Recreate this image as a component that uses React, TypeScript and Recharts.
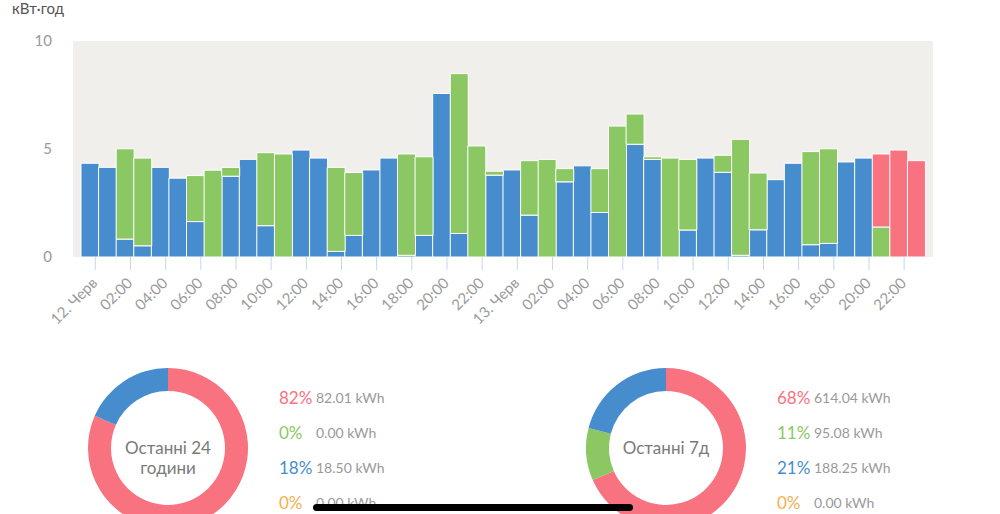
import { Bar, BarChart, CartesianGrid, Cell, Pie, PieChart, XAxis, YAxis } from "recharts";

// hourly slots, 12 Jun 00:00 .. 13 Jun 23:00
const slots = Array.from({ length: 48 }, (_, i) => `${i < 24 ? 12 : 13}.06 ${String(i % 24).padStart(2, "0")}:00`);
const tickLabels = [
    "12. Черв", "02:00", "04:00", "06:00", "08:00", "10:00", "12:00", "14:00", "16:00", "18:00", "20:00", "22:00",
    "13. Черв", "02:00", "04:00", "06:00", "08:00", "10:00", "12:00", "14:00", "16:00", "18:00", "20:00", "22:00",
];
const blueVals = [
    4.34, 4.15, 0.83, 0.52, 4.15, 3.65, 1.64, 0, 3.74, 4.52, 1.45, 0,
    4.95, 4.58, 0.26, 1.0, 4.03, 4.58, 0.08, 1.0, 7.57, 1.09, 0, 3.79,
    4.03, 1.94, 0, 3.48, 4.22, 2.06, 0, 5.22, 4.52, 0, 1.25, 4.58,
    3.92, 0.08, 1.26, 3.58, 4.34, 0.57, 0.63, 4.4, 4.58, 0, 0, 0,
];
const greenVals = [
    0, 0, 4.18, 4.06, 0, 0, 2.13, 4.02, 0.41, 0, 3.38, 4.77,
    0, 0, 3.89, 2.91, 0, 0, 4.69, 3.64, 0, 7.4, 5.14, 0.18,
    0, 2.52, 4.52, 0.61, 0, 2.03, 6.06, 1.4, 0.12, 4.58, 3.27, 0,
    0.79, 5.37, 2.63, 0, 0, 4.31, 4.38, 0, 0, 1.39, 0, 0,
];
const redVals = [
    0, 0, 0, 0, 0, 0, 0, 0, 0, 0, 0, 0,
    0, 0, 0, 0, 0, 0, 0, 0, 0, 0, 0, 0,
    0, 0, 0, 0, 0, 0, 0, 0, 0, 0, 0, 0,
    0, 0, 0, 0, 0, 0, 0, 0, 0, 3.38, 4.95, 4.46,
];

const pieNames = ["red", "green", "blue", "orange"];
const pieColors = ["#f8727f", "#8bc863", "#478dce", "#f2b04f"];
const day24 = [82.01, 0, 18.5, 0];
const day24Pct = ["82%", "0%", "18%", "0%"];
const week = [614.04, 95.08, 188.25, 0];
const weekPct = ["68%", "11%", "21%", "0%"];

const BLUE = "#478dce";
const GREEN = "#8bc863";
const RED = "#f8727f";
const FONT = "Lato, 'Open Sans', sans-serif";

const XTick = ({ x, y, payload }: any) => {
    const label = tickLabels[payload.index / 2];
    if (label === undefined) return null;
    const tx = x + 5.5;
    return (
        <g>
            <line x1={tx} y1={y} x2={tx} y2={y + 13} stroke="#c9d5ec" strokeWidth={1} />
            <text x={tx + 3} y={y + 27} textAnchor="end" fontSize={15} fill="#9a9a9a" fontFamily={FONT}
                  transform={`rotate(-45 ${tx + 3} ${y + 27})`}>{label}</text>
        </g>
    );
};

const Donut = ({ values, pcts, title, left }: any) => {
    const data = values.map((v: number, i: number) => ({ name: pieNames[i], value: v }));
    return (
        <>
            <div style={{ position: "absolute", left: left - 100, top: 348 }}>
                <PieChart width={200} height={200} margin={{ top: 0, right: 0, bottom: 0, left: 0 }}>
                    <Pie data={data} dataKey="value" cx={100} cy={100} innerRadius={57} outerRadius={80}
                         startAngle={90} endAngle={-270} stroke="none" isAnimationActive={false}>
                        {data.map((_: any, i: number) => <Cell key={i} fill={pieColors[i]} />)}
                    </Pie>
                </PieChart>
            </div>
            <div style={{ position: "absolute", left: left - 70, width: 140, top: 438, textAlign: "center",
                fontSize: 17, lineHeight: "20px", color: "#7a7a7a" }}>
                {title.map((t: string) => <div key={t}>{t}</div>)}
            </div>
            {values.map((v: number, i: number) => (
                <div key={i} style={{ position: "absolute", left: left + 111, top: 386 + i * 35, height: 22,
                    display: "flex", alignItems: "center" }}>
                    <span style={{ width: 37, fontSize: 17, color: pieColors[i] }}>{pcts[i]}</span>
                    <span style={{ fontSize: 14, color: "#9a9a9a" }}>{v.toFixed(2)} kWh</span>
                </div>
            ))}
        </>
    );
};

const App = () => {
    const data = slots.map((s, i) => ({ slot: s, blue: blueVals[i], green: greenVals[i], red: redVals[i] }));
    return (
        <div style={{ position: "absolute", left: 0, top: 0, width: 1000, height: 514, overflow: "hidden",
            background: "#fff", fontFamily: FONT }}>
            <div style={{ position: "absolute", left: 12, top: -1, fontSize: 15, color: "#555" }}>кВт·год</div>
            <div style={{ position: "absolute", left: 0, top: 0 }}>
                <BarChart width={1000} height={340} data={data} margin={{ top: 41, right: 67, left: 0, bottom: 23 }}
                          barCategoryGap={0} barGap={0}>
                    <CartesianGrid fill="#f0efec" horizontal={false} vertical={false} />
                    <XAxis dataKey="slot" height={60} interval={1} tick={<XTick />} tickLine={false}
                           axisLine={false} tickSize={0} tickMargin={0} padding={{ left: 8, right: 8 }} />
                    <YAxis width={73} domain={[0, 10]} ticks={[0, 5, 10]} tickLine={false} axisLine={false}
                           tickSize={0} tickMargin={21} tick={{ fontSize: 15, fill: "#9a9a9a", fontFamily: FONT }} />
                    <Bar dataKey="blue" stackId="a" fill={BLUE} stroke="#fff" strokeWidth={1} isAnimationActive={false} />
                    <Bar dataKey="green" stackId="a" fill={GREEN} stroke="#fff" strokeWidth={1} isAnimationActive={false} />
                    <Bar dataKey="red" stackId="a" fill={RED} stroke="#fff" strokeWidth={1} isAnimationActive={false} />
                </BarChart>
            </div>
            <Donut values={day24} pcts={day24Pct} title={["Останні 24", "години"]} left={168} />
            <Donut values={week} pcts={weekPct} title={["Останні 7д"]} left={666} />
            <div style={{ position: "absolute", left: 313, top: 504, width: 320, height: 7, borderRadius: 4,
                background: "#000" }} />
        </div>
    );
};

export default App;
